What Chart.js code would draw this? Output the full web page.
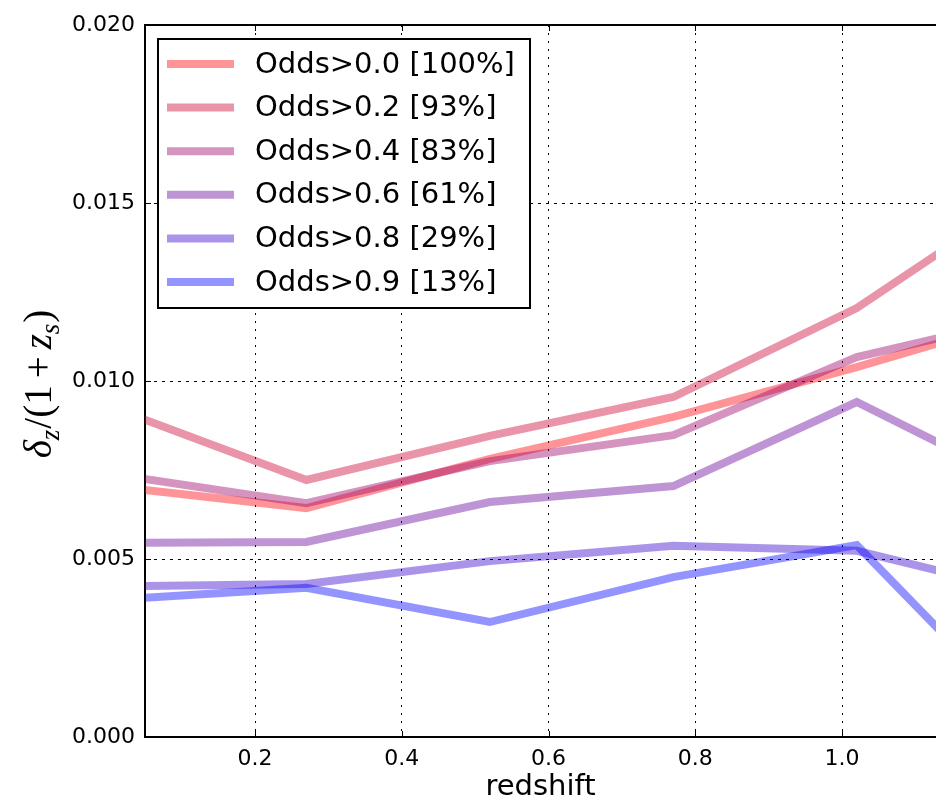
<!DOCTYPE html>
<html>
<head>
<meta charset="utf-8">
<script src="https://cdn.jsdelivr.net/npm/chart.js@4.4.1/dist/chart.umd.min.js"></script>
<style>
  html, body { margin: 0; padding: 0; background: #fff; overflow: hidden; }
  #wrap { width: 936px; height: 799px; }
</style>
</head>
<body>
<div id="wrap"><canvas id="myChart" width="936" height="799"></canvas></div>
<script>
// bin centres in redshift (first and last one fall outside the visible window)
var redshift = [0.02, 0.27, 0.52, 0.77, 1.02, 1.27];

var odds00 = [0.00701, 0.00643, 0.00781, 0.00899, 0.01039, 0.01190];
var odds02 = [0.00914, 0.00722, 0.00846, 0.00955, 0.01205, 0.01550];
var odds04 = [0.00734, 0.00657, 0.00775, 0.00848, 0.01067, 0.01187];
var odds06 = [0.00545, 0.00548, 0.00660, 0.00705, 0.00941, 0.00684];
var odds08 = [0.00423, 0.00430, 0.00494, 0.00537, 0.00523, 0.00397];
var odds09 = [0.00387, 0.00419, 0.00323, 0.00449, 0.00539, 0.00010];

var seriesLabels = [
  "Odds>0.0 [100%]",
  "Odds>0.2 [93%]",
  "Odds>0.4 [83%]",
  "Odds>0.6 [61%]",
  "Odds>0.8 [29%]",
  "Odds>0.9 [13%]",
];
var seriesValues = [odds00, odds02, odds04, odds06, odds08, odds09];
var seriesColors = [
  "rgba(255,0,10,0.42)",
  "rgba(204,0,51,0.42)",
  "rgba(153,0,102,0.42)",
  "rgba(102,0,153,0.42)",
  "rgba(51,0,204,0.42)",
  "rgba(0,0,255,0.42)",
];

var xTicks = [0.2, 0.4, 0.6, 0.8, 1.0];
var xTickLabels = ["0.2", "0.4", "0.6", "0.8", "1.0"];
var yTicks = [0, 0.005, 0.01, 0.015, 0.02];
var yTickLabels = ["0.000", "0.005", "0.010", "0.015", "0.020"];

var tickFont = { family: "'DejaVu Sans'", size: 22 };

// frame top line, inward tick marks and the boxed legend
var framePlugin = {
  id: "frame",
  afterDraw: function (chart) {
    var ctx = chart.ctx;
    var a = chart.chartArea;
    var xs = chart.scales.x, ys = chart.scales.y;
    ctx.save();
    ctx.strokeStyle = "#000";
    ctx.lineWidth = 2;
    ctx.beginPath();
    ctx.moveTo(a.left - 1, a.top);
    ctx.lineTo(a.right, a.top);
    ctx.stroke();

    ctx.lineWidth = 1;
    ctx.beginPath();
    xTicks.forEach(function (v) {
      var px = Math.round(xs.getPixelForValue(v)) + 0.5;
      ctx.moveTo(px, a.bottom); ctx.lineTo(px, a.bottom - 6);
      ctx.moveTo(px, a.top); ctx.lineTo(px, a.top + 6);
    });
    yTicks.forEach(function (v) {
      var py = Math.round(ys.getPixelForValue(v)) + 0.5;
      ctx.moveTo(a.left, py); ctx.lineTo(a.left + 6, py);
    });
    ctx.stroke();

    // legend
    var bx = 158, by = 39, bw = 372, bh = 269;
    ctx.fillStyle = "#fff";
    ctx.fillRect(bx, by, bw, bh);
    ctx.lineWidth = 2;
    ctx.strokeRect(bx, by, bw, bh);
    ctx.font = "29px 'DejaVu Sans'";
    ctx.textBaseline = "middle";
    ctx.textAlign = "left";
    chart.data.datasets.forEach(function (ds, i) {
      var ry = 64 + i * 43.6;
      ctx.strokeStyle = ds.borderColor;
      ctx.lineWidth = 8;
      ctx.beginPath();
      ctx.moveTo(167, ry);
      ctx.lineTo(234, ry);
      ctx.stroke();
      ctx.fillStyle = "#000";
      ctx.fillText(ds.label, 255, ry + 1);
    });
    ctx.restore();
  },
};

// y axis title: delta_z / (1 + z_s), drawn rotated with sub-scripts
var yTitlePlugin = {
  id: "yTitle",
  afterDraw: function (chart) {
    var ctx = chart.ctx;
    var big = 39, small = 27;
    var serif = "'Liberation Serif'";
    var parts = [
      { t: "\u03b4", f: "italic " + big + "px " + serif, dy: 0, gap: 0 },
      { t: "z", f: "italic " + small + "px " + serif, dy: 8, gap: 1 },
      { t: "/(1", f: big + "px " + serif, dy: 0, gap: 7 },
      { t: "+", f: big + "px " + serif, dy: 0, gap: 7 },
      { t: "z", f: "italic " + big + "px " + serif, dy: 0, gap: 0 },
      { t: "s", f: "italic " + small + "px " + serif, dy: 8, gap: 1 },
      { t: ")", f: big + "px " + serif, dy: 0, gap: 0 },
    ];
    ctx.save();
    var total = 0;
    parts.forEach(function (p) {
      ctx.font = p.f;
      p.w = ctx.measureText(p.t).width;
      total += p.w + p.gap;
    });
    ctx.translate(51, 384);
    ctx.rotate(-Math.PI / 2);
    ctx.fillStyle = "#000";
    ctx.textBaseline = "alphabetic";
    var x = -total / 2;
    parts.forEach(function (p) {
      ctx.font = p.f;
      ctx.fillText(p.t, x, p.dy);
      x += p.w + p.gap;
    });
    ctx.restore();
  },
};

var datasets = seriesValues.map(function (vals, i) {
  return {
    label: seriesLabels[i],
    data: vals.map(function (v, j) { return { x: redshift[j], y: v }; }),
    borderColor: seriesColors[i],
    backgroundColor: seriesColors[i],
    borderWidth: 8,
    pointRadius: 0,
    tension: 0,
    fill: false,
    clip: 0,
    order: seriesValues.length - i,
    borderJoinStyle: "miter",
  };
});

new Chart(document.getElementById("myChart"), {
  type: "line",
  data: { datasets: datasets },
  plugins: [framePlugin, yTitlePlugin],
  options: {
    responsive: false,
    animation: false,
    devicePixelRatio: 1,
    layout: { padding: { top: 25, left: 0, right: 0, bottom: 0 } },
    plugins: {
      legend: { display: false },
      tooltip: { enabled: false },
    },
    scales: {
      x: {
        type: "linear",
        min: 0.05,
        max: 1.128,
        z: 1,
        afterFit: function (scale) { scale.height = 62; },
        afterBuildTicks: function (scale) {
          scale.ticks = xTicks.map(function (v) { return { value: v }; });
        },
        ticks: {
          font: tickFont,
          color: "#000",
          padding: 9,
          maxRotation: 0,
          autoSkip: false,
          callback: function (v, i) { return xTickLabels[i]; },
        },
        grid: { color: "#000", lineWidth: 1, drawTicks: false },
        border: { color: "#000", width: 2, dash: [2, 6] },
        title: {
          display: true,
          text: "redshift",
          color: "#000",
          font: { family: "'DejaVu Sans'", size: 29, lineHeight: 0.8 },
          padding: { top: 0, bottom: 0 },
        },
      },
      y: {
        min: 0,
        max: 0.02,
        z: 1,
        afterFit: function (scale) { scale.width = 145; },
        afterBuildTicks: function (scale) {
          scale.ticks = yTicks.map(function (v) { return { value: v }; });
        },
        ticks: {
          font: tickFont,
          color: "#000",
          padding: 10,
          callback: function (v, i) { return yTickLabels[i]; },
        },
        grid: { color: "#000", lineWidth: 1, drawTicks: false },
        border: { color: "#000", width: 2, dash: [3, 5] },
      },
    },
  },
});
</script>
</body>
</html>
